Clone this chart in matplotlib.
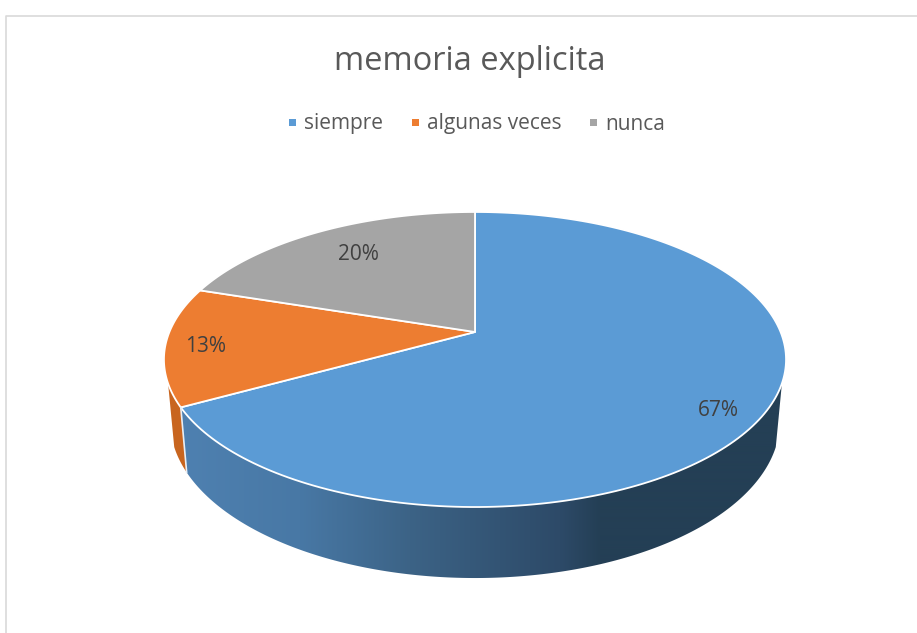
import numpy as np
import matplotlib
matplotlib.use("Agg")
import matplotlib.pyplot as plt
from matplotlib.patches import Polygon, Rectangle

# chart data
title = "memoria explicita"
categories = ["siempre", "algunas veces", "nunca"]
values = [67, 13, 20]
colors = ["#5B9BD5", "#ED7D31", "#A5A5A5"]

# pie geometry in pixels, picture coordinates
cx, cy = 475, 332
kx, ky, persp = 305.6, 142.4, 0.1864
side_sx, side_sy, side_dy = 0.98, 1.06, 60.5


def top_point(theta):
    # theta runs clockwise from 12 o'clock
    x = np.sin(theta)
    y = -np.cos(theta)
    d = 1 - persp * y
    return cx + kx * x / d, cy + ky * y / d


def bottom_point(theta):
    px, py = top_point(theta)
    return cx + (px - cx) * side_sx, cy + side_dy + (py - cy) * side_sy


fig = plt.figure(figsize=(9.17, 6.33), dpi=100)
ax = fig.add_axes([0, 0, 1, 1])
ax.set_xlim(0, 917)
ax.set_ylim(633, 0)
ax.axis("off")

# chart frame
ax.plot([5.5, 5.5, 917], [633, 15.5, 15.5], color="#D9D9D9", lw=1.2)

edges = np.concatenate([[0], np.cumsum(values)]) / sum(values) * 2 * np.pi

# side walls, only the front of the pie shows
wall_limits = [(np.pi * 0.61, edges[1]), (edges[1], np.pi * 1.39)]
walls = []
for a, b in wall_limits:
    th = np.linspace(a, b, 300)
    tx, ty = top_point(th)
    bx, by = bottom_point(th)
    walls.append(np.column_stack([np.r_[tx, bx[::-1]], np.r_[ty, by[::-1]]]))

# shading of the blue wall goes dark to the right
stops_x = [187, 300, 410, 560, 600, 790]
stops_c = np.array([[78, 128, 176], [72, 120, 165], [60, 99, 134], [45, 74, 104], [36, 63, 85], [36, 63, 85]]) / 255
grad_x = np.arange(170, 800)
grad = np.stack([np.interp(grad_x, stops_x, stops_c[:, i]) for i in range(3)], axis=-1)[np.newaxis, :, :]
blue_patch = Polygon(walls[0], closed=True, fc="none", ec="none", transform=ax.transData)
ax.add_patch(blue_patch)
im = ax.imshow(grad, extent=[170, 800, 600, 300], aspect="auto", interpolation="bilinear")
im.set_clip_path(blue_patch)
ax.set_xlim(0, 917)
ax.set_ylim(633, 0)

ax.add_patch(Polygon(walls[1], closed=True, fc="#C8651F", ec="none"))

# white line between walls
t = edges[1]
p0, p1 = top_point(t), bottom_point(t)
ax.plot([p0[0], p1[0]], [p0[1], p1[1]], color="#E8EEF4", lw=1.2)

# top of the pie
for i in range(len(values)):
    th = np.linspace(edges[i], edges[i + 1], 200)
    px, py = top_point(th)
    pts = np.column_stack([np.r_[cx, px], np.r_[cy, py]])
    ax.add_patch(Polygon(pts, closed=True, fc=colors[i], ec="white", lw=1.3, joinstyle="round"))

# data labels
label_x = [718, 206, 358]
label_y = [410, 347, 255]
for v, lx, ly in zip(values, label_x, label_y):
    ax.text(lx, ly, "%d%%" % v, ha="center", va="center", color="#404040",
            family="Open Sans", fontsize=15)

ax.text(470, 62, title, ha="center", va="center", color="#595959",
        family="Open Sans", fontsize=23.5)

# legend
marker_x = [292, 415, 593]
text_x = [304, 427, 605]
for name, c, mx, tx in zip(categories, colors, marker_x, text_x):
    ax.add_patch(Rectangle((mx - 3.5, 119), 7, 7, fc=c, ec="none"))
    ax.text(tx, 124, name, ha="left", va="center", color="#595959",
            family="Open Sans", fontsize=15)

fig.savefig("out.png", dpi=100)
